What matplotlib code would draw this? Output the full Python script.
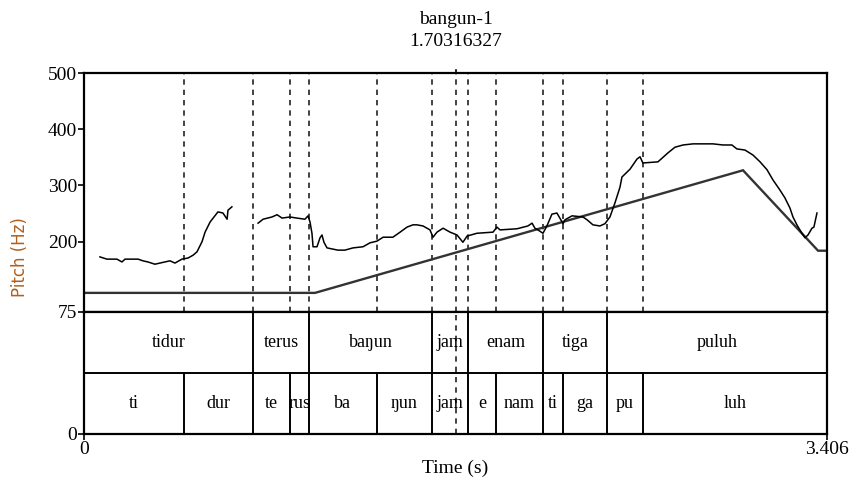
import matplotlib
matplotlib.use("Agg")
import matplotlib.pyplot as plt
import matplotlib.transforms as mtransforms

SERIF = ["Liberation Serif", "DejaVu Serif"]

# ---------------- data ----------------
title_name = "bangun-1"
cursor_time = 1.70316327
cursor_label = "1.70316327"
total_time = 3.406

# pitch contour, voiced segment 1 (time s, Hz)
seg1_t = [0.073, 0.105, 0.151, 0.174, 0.188, 0.248, 0.270, 0.293, 0.325, 0.348,
          0.394, 0.417, 0.449, 0.477, 0.500, 0.518, 0.541, 0.555, 0.578, 0.614,
          0.637, 0.656, 0.660, 0.678]
seg1_hz = [173, 169, 169, 164, 169, 169, 166, 164, 160, 162,
           166, 162, 169, 171, 176, 182, 200, 217, 235, 253,
           251, 240, 256, 262]

# pitch contour, voiced segment 2
seg2_t = [0.798, 0.821, 0.862, 0.885, 0.908, 0.944, 0.976, 1.013, 1.027, 1.036,
          1.045, 1.050, 1.068, 1.082, 1.091, 1.100, 1.114, 1.164, 1.196, 1.233,
          1.279, 1.311, 1.343, 1.371, 1.416, 1.449, 1.481, 1.508, 1.526, 1.554,
          1.586, 1.600, 1.618, 1.646, 1.678, 1.710, 1.737, 1.756, 1.801, 1.875,
          1.893, 1.907, 1.985, 2.035, 2.054, 2.067, 2.081, 2.104, 2.122, 2.145,
          2.168, 2.196, 2.205, 2.237, 2.287, 2.306, 2.333, 2.365, 2.388, 2.411,
          2.434, 2.457, 2.466, 2.503, 2.535, 2.549, 2.562, 2.631, 2.677, 2.709,
          2.746, 2.792, 2.883, 2.929, 2.970, 2.993, 3.030, 3.067, 3.099, 3.131,
          3.158, 3.190, 3.213, 3.236, 3.250, 3.268, 3.291, 3.305, 3.319, 3.337,
          3.346, 3.360]
seg2_hz = [233, 240, 244, 248, 242, 244, 242, 240, 246, 235,
           215, 191, 191, 207, 212, 199, 189, 185, 185, 189,
           191, 198, 201, 208, 208, 217, 226, 230, 230, 228,
           221, 208, 217, 224, 217, 212, 199, 210, 215, 217,
           226, 221, 223, 228, 233, 224, 221, 215, 228, 249,
           251, 232, 239, 246, 244, 239, 230, 228, 232, 244,
           269, 297, 315, 329, 347, 351, 340, 342, 358, 368,
           372, 374, 374, 372, 372, 365, 363, 354, 342, 328,
           310, 292, 278, 260, 244, 230, 215, 207, 212, 224,
           226, 251]

# stylized (target) line
styl_t = [0.0, 1.059, 3.021, 3.365, 3.406]
styl_hz = [109, 109, 327, 184, 184]

# tiers
words = ["tidur", "terus", "ba\u014bun", "jam", "enam", "tiga", "puluh"]
word_bounds = [0, 0.775, 1.031, 1.595, 1.760, 2.104, 2.397, 3.406]
syllables = ["ti", "dur", "te", "rus", "ba", "\u014bun", "jam", "e", "nam",
             "ti", "ga", "pu", "luh"]
syl_bounds = [0, 0.458, 0.775, 0.944, 1.031, 1.343, 1.595, 1.760, 1.889,
              2.104, 2.196, 2.397, 2.562, 3.406]

pitch_ticks = [75, 200, 300, 400, 500]
pitch_min, pitch_max = 75, 500

# ---------------- figure ----------------
W, H = 851, 490
fig = plt.figure(figsize=(W / 100, H / 100), dpi=100)
fig.patch.set_facecolor("white")

x0 = 84 / W
x1 = 827 / W
y_top = 1 - 73 / H
y_mid = 1 - 312 / H
y_bot = 1 - 434 / H

ax_p = fig.add_axes([x0, y_mid, x1 - x0, y_top - y_mid])
ax_t = fig.add_axes([x0, y_bot, x1 - x0, y_mid - y_bot])

for ax in (ax_p, ax_t):
    ax.set_xlim(0, total_time)
    for s in ax.spines.values():
        s.set_linewidth(1.6)
        s.set_color("black")
    ax.set_facecolor("white")

ax_p.set_ylim(pitch_min, pitch_max)
ax_t.set_ylim(0, 2)

# dashed boundary lines in pitch area
dash = (0, (3.2, 3.0))
for b in syl_bounds[1:-1]:
    ax_p.axvline(b, color="#222222", lw=1.2, linestyle=dash)
# cursor through both
ax_p.axvline(cursor_time, color="#222222", lw=1.2, linestyle=dash)
ax_t.axvline(cursor_time, color="#222222", lw=1.2, linestyle=dash)

# contour and stylization
ax_p.plot(styl_t, styl_hz, color="#333333", lw=1.7, solid_joinstyle="miter")
ax_p.plot(seg1_t, seg1_hz, color="black", lw=1.1)
ax_p.plot(seg2_t, seg2_hz, color="black", lw=1.1)

# tiers
ax_t.axhline(1, color="black", lw=1.4)
for b in word_bounds[1:-1]:
    ax_t.plot([b, b], [1, 2], color="black", lw=1.4)
for b in syl_bounds[1:-1]:
    ax_t.plot([b, b], [0, 1], color="black", lw=1.4)
for i, w in enumerate(words):
    xc = (word_bounds[i] + word_bounds[i + 1]) / 2
    ax_t.text(xc, 1.5, w, ha="center", va="center", fontsize=13, family=SERIF)
for i, s in enumerate(syllables):
    xc = (syl_bounds[i] + syl_bounds[i + 1]) / 2
    ax_t.text(xc, 0.5, s, ha="center", va="center", fontsize=13, family=SERIF)

# ticks
ax_p.set_xticks([])
ax_p.set_yticks(pitch_ticks)
ax_p.set_yticklabels([str(v) for v in pitch_ticks], family=SERIF, fontsize=14)
ax_p.tick_params(axis="y", direction="out", length=4, width=1.2, pad=1)

ax_t.set_yticks([0])
ax_t.set_yticklabels(["0"], family=SERIF, fontsize=14)
ax_t.set_xticks([0, total_time])
ax_t.set_xticklabels(["0", f"{total_time:.3f}"], family=SERIF, fontsize=14)
ax_t.tick_params(axis="both", direction="out", length=4, width=1.2, pad=1)

ax_t.set_xlabel("Time (s)", family=SERIF, fontsize=14, labelpad=1)
fig.text(20 / W, 1 - 257 / H, "Pitch (Hz)", rotation=90, ha="center",
         va="center", fontsize=12, color="#b0601e", family="DejaVu Sans")

# cursor tick above frame and title
ax_p.plot([cursor_time, cursor_time], [pitch_max, pitch_max + 6], color="black",
          lw=1.2, clip_on=False)
tr = mtransforms.blended_transform_factory(ax_p.transData, fig.transFigure)
fig.text(cursor_time, 1 - 20 / H, title_name, transform=tr, ha="center",
         va="center", fontsize=14, family=SERIF)
fig.text(cursor_time, 1 - 42 / H, cursor_label, transform=tr, ha="center",
         va="center", fontsize=14, family=SERIF)

fig.savefig("out.png", dpi=100, facecolor="white")
